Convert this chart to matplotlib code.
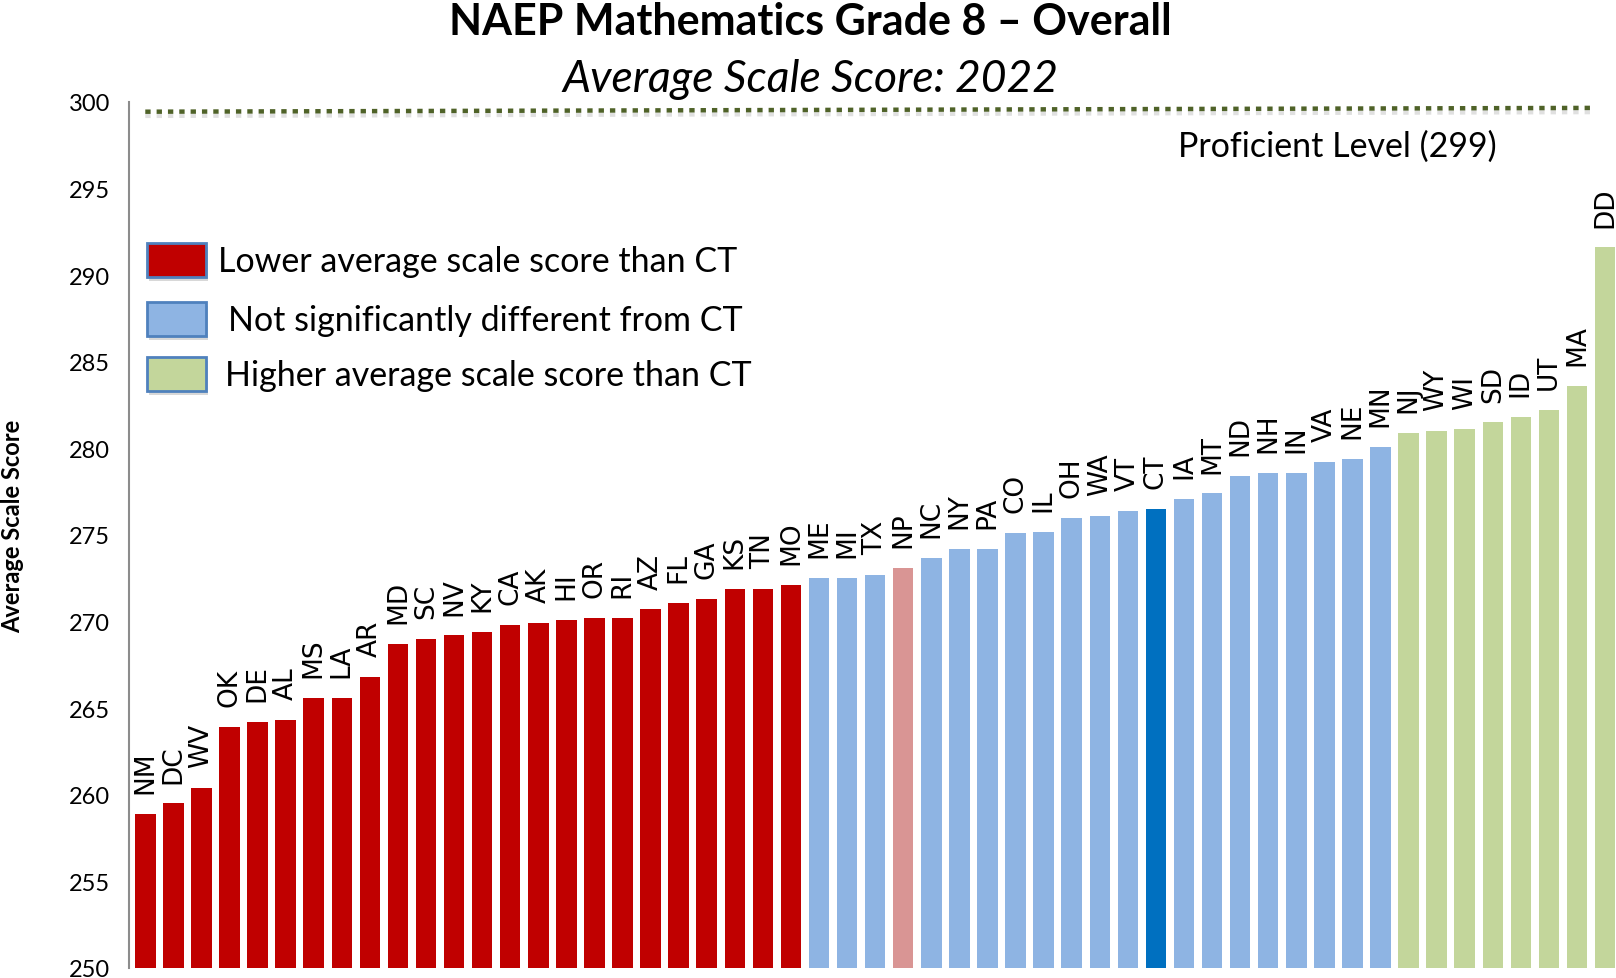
import matplotlib
matplotlib.use("Agg")
import matplotlib.pyplot as plt
from matplotlib.patches import Rectangle
import matplotlib.patheffects as pe

states = ["NM","DC","WV","OK","DE","AL","MS","LA","AR","MD","SC","NV","KY","CA","AK","HI","OR","RI",
          "AZ","FL","GA","KS","TN","MO","ME","MI","TX","NP","NC","NY","PA","CO","IL","OH","WA","VT",
          "CT","IA","MT","ND","NH","IN","VA","NE","MN","NJ","WY","WI","SD","ID","UT","MA","DD"]
scores = [258.9,259.5,260.4,263.9,264.2,264.3,265.6,265.6,266.8,268.7,269.0,269.2,269.4,269.8,269.9,270.1,270.2,270.2,
          270.7,271.1,271.3,271.9,271.9,272.1,272.5,272.5,272.7,273.1,273.7,274.2,274.2,275.1,275.2,276.0,276.1,276.4,
          276.5,277.1,277.4,278.4,278.6,278.6,279.2,279.4,280.1,280.9,281.0,281.1,281.5,281.8,282.2,283.6,291.6]
groups = (["lower"]*24 + ["same"]*3 + ["nation"] + ["same"]*8 + ["ct"] + ["same"]*8 + ["higher"]*8)

proficient_level = 299
proficient_line_x = [0.0, 51.64]
proficient_line_y = [299.44, 299.66]

yticks = [250,255,260,265,270,275,280,285,290,295,300]

colors = {"lower":"#C00000","same":"#8EB4E3","nation":"#D99594","ct":"#0070C0","higher":"#C3D69B"}
legend_labels = ["Lower average scale score than CT",
                 "Not significantly different from CT",
                 "Higher average scale score than CT"]
legend_keys = ["lower","same","higher"]

FONT = "Lato"
W, H = 1616, 979
fig = plt.figure(figsize=(W/100, H/100), dpi=100)
ax = fig.add_axes([129/W, 1-969/H, (W-129)/W, (969-103)/H])

x = list(range(len(states)))
ax.bar(x, [s-250 for s in scores], bottom=250, width=0.73,
       color=[colors[g] for g in groups], zorder=2)
for xi, s, lab in zip(x, scores, states):
    ax.annotate(lab, (xi, s), xytext=(0, 15), textcoords="offset points",
                rotation=90, ha="center", va="bottom", fontsize=19,
                family=["Liberation Sans Narrow", "DejaVu Sans"], color="black")

ax.plot(proficient_line_x, proficient_line_y, color="#4F6228", lw=3.2,
        linestyle=(0, (1.2, 1.35)), solid_capstyle="butt", dash_capstyle="butt",
        path_effects=[pe.SimpleLineShadow(offset=(0, -3), shadow_color="#999999", alpha=0.3), pe.Normal()],
        zorder=3)

ax.set_ylim(250, 300)
ax.set_xlim(-0.58, 52.39)
ax.set_yticks(yticks)
ax.set_yticklabels([str(t) for t in yticks], fontsize=17, family=FONT)
ax.tick_params(axis="y", length=0, pad=13.5)
ax.tick_params(axis="x", bottom=False, labelbottom=False)
for sp in ["top","right","bottom"]:
    ax.spines[sp].set_visible(False)
ax.spines["left"].set_color("#8C8C8C")
ax.spines["left"].set_linewidth(1.5)

fig.text(13/W, 1-526/H, "Average Scale Score", rotation=90, ha="center", va="center",
         fontsize=17, fontweight="bold", family=FONT)

fig.text(810/W, 1-22/H, "NAEP Mathematics Grade 8 \u2013 Overall", ha="center", va="center",
         fontsize=31, fontweight="bold", family=FONT)
fig.text(810/W, 1-80/H, "Average Scale Score: 2022", ha="center", va="center",
         fontsize=32, style="italic", family=FONT)

fig.text(1337/W, 1-147/H, "Proficient Level (" + str(proficient_level) + ")", ha="center", va="center",
         fontsize=24.5, family=FONT)

box_tops = [244, 303, 358]
text_x = [218, 228, 225]
for key, lab, top, tx in zip(legend_keys, legend_labels, box_tops, text_x):
    shadow = Rectangle(((147+2)/W, 1-(top+34+4)/H), 59/W, 34/H, transform=fig.transFigure,
                       facecolor="#BFBFBF", edgecolor="none", alpha=0.6)
    fig.patches.append(shadow)
    r = Rectangle((147/W, 1-(top+34)/H), 59/W, 34/H, transform=fig.transFigure,
                  facecolor=colors[key], edgecolor="#4F81BD", linewidth=2)
    fig.patches.append(r)
    fig.text(tx/W, 1-(top+18)/H, lab, ha="left", va="center", fontsize=24.5, family=FONT)

fig.savefig("out.png", dpi=100)
